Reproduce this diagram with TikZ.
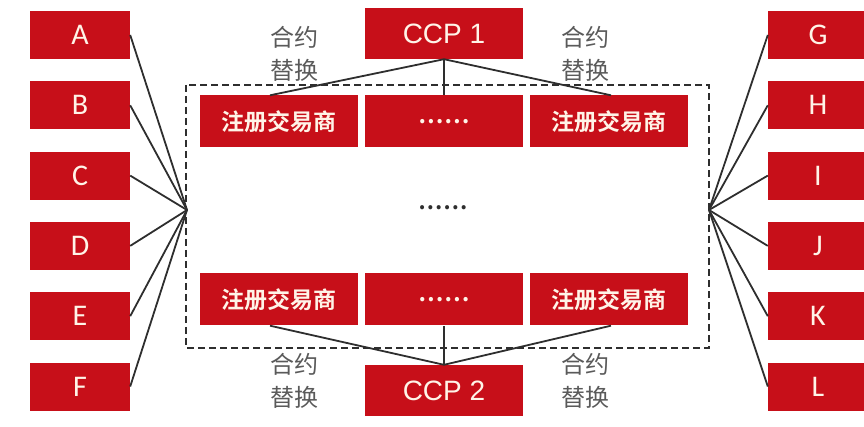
\documentclass[tikz,border=0pt]{standalone}
\usepackage{fontspec}
\setmainfont{Carlito}
\newfontfamily\cjk{Noto Sans CJK SC}
\newfontfamily\cjkb{Noto Sans CJK SC Bold}
\newfontfamily\arialf{Liberation Sans}
\definecolor{boxred}{HTML}{C70F19}
\definecolor{boxtxt}{HTML}{FFF4E8}
\definecolor{lbl}{HTML}{5A5A5A}
\definecolor{ln}{HTML}{2E2E2E}
\tikzset{
  letterbox/.style={fill=boxred, draw=none, minimum width=100pt, minimum height=48pt, inner sep=0pt, text=boxtxt, font=\fontsize{30}{30}\selectfont},
  innerbox/.style={fill=boxred, draw=none, minimum width=158pt, minimum height=52pt, inner sep=0pt, text=boxtxt, font=\cjkb\fontsize{23}{23}\selectfont},
  ccpbox/.style={fill=boxred, draw=none, minimum width=158pt, minimum height=51pt, inner sep=0pt, text=boxtxt, font=\arialf\fontsize{28}{28}\selectfont},
  swaplbl/.style={text=lbl, align=center, font=\cjk\fontsize{24}{33}\selectfont, inner sep=0pt},
  conn/.style={draw=ln, line width=1.8pt},
  dashbox/.style={draw=ln, line width=1.4pt, dash pattern=on 7pt off 4pt}
}
\begin{document}
\begin{tikzpicture}[x=1pt,y=-1pt]
\useasboundingbox (0,0) rectangle (864,427);
% dashed frame
\draw[dashbox] (186,85) rectangle (709,348);
\coordinate (cl) at (187,210);
\coordinate (cr) at (709,210);
% left boxes
\foreach \n/\t [count=\i from 0] in {a/A,b/B,c/C,d/D,e/E,f/F}{
  \node[letterbox] (\n) at (80,{35+70.3*\i}) {\t};
}
\foreach \n/\t [count=\i from 0] in {g/G,h/H,i/I,j/J,k/K,l/L}{
  \node[letterbox] (\n) at (818,{35+70.3*\i}) {\t};
}
% inner boxes
\node[innerbox] (l1) at (279,121.5) {注册交易商};
\node[innerbox] (m1) at (444,121.5) {……};
\node[innerbox] (r1) at (609,121.5) {注册交易商};
\node[innerbox] (l2) at (279,299.5) {注册交易商};
\node[innerbox] (m2) at (444,299.5) {……};
\node[innerbox] (r2) at (609,299.5) {注册交易商};
\node[text=ln, font=\cjkb\fontsize{22}{22}\selectfont, inner sep=0pt] (mid) at (443,208) {……};
% CCP boxes
\node[ccpbox] (ccp1) at (444,33.5) {CCP 1};
\node[ccpbox] (ccp2) at (444,390.5) {CCP 2};
% labels
\node[swaplbl] (s1) at (294,54) {合约\\替换};
\node[swaplbl] (s2) at (585,54) {合约\\替换};
\node[swaplbl] (s3) at (294,381) {合约\\替换};
\node[swaplbl] (s4) at (585,381) {合约\\替换};
% connectors
\foreach \n in {a,b,c,d,e,f}{ \draw[conn] (\n.east) -- (cl); }
\foreach \n in {g,h,i,j,k,l}{ \draw[conn] (\n.west) -- (cr); }
\draw[conn] (ccp1.south) -- ([xshift=-9pt]l1.north);
\draw[conn] (ccp1.south) -- (m1.north);
\draw[conn] (ccp1.south) -- ([xshift=2pt]r1.north);
\draw[conn] (ccp2.north) -- ([xshift=-9pt]l2.south);
\draw[conn] (ccp2.north) -- (m2.south);
\draw[conn] (ccp2.north) -- ([xshift=2pt]r2.south);
\end{tikzpicture}
\end{document}
